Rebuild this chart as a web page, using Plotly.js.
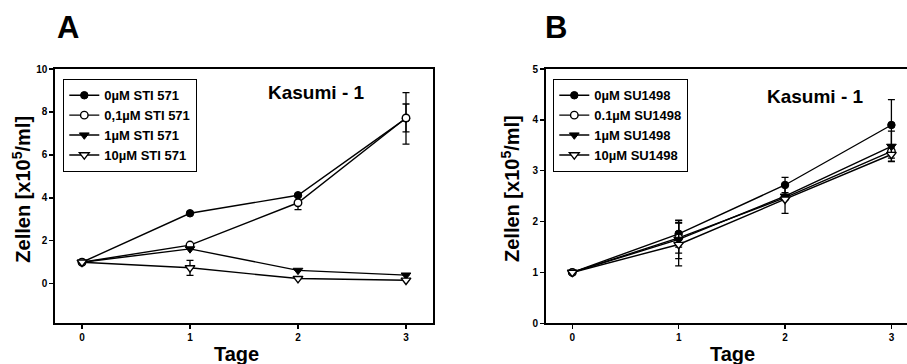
<!DOCTYPE html>
<html>
<head>
<meta charset="utf-8">
<script src="https://cdn.plot.ly/plotly-3.0.1.min.js"></script>
<style>
  html, body { margin: 0; padding: 0; overflow: hidden; background: #fff; }
  #chart { width: 920px; height: 364px; }
</style>
</head>
<body>
<div id="chart"></div>
<script>
// ---- data ----
const days = [0, 1, 2, 3];
const dayTicks = ['0', '1', '2', '3'];

// Panel A: STI 571
const namesA = ['0µM STI 571', '0,1µM STI 571', '1µM STI 571', '10µM STI 571'];
const sti0   = [1.0, 3.28, 4.12, 7.70];
const sti01  = [1.0, 1.80, 3.77, 7.72];
const sti1   = [1.0, 1.62, 0.62, 0.40];
const sti10  = [1.0, 0.74, 0.24, 0.16];
const errSti0  = [null, null, null, 1.20];
const errSti01 = [null, null, 0.32, 0.65];
const errSti1  = [null, null, null, null];
const errSti10 = [null, 0.35, null, null];

// Panel B: SU1498
const namesB = ['0µM SU1498', '0.1µM SU1498', '1µM SU1498', '10µM SU1498'];
const su0   = [1.0, 1.76, 2.72, 3.90];
const su01  = [1.0, 1.68, 2.47, 3.38];
const su1   = [1.0, 1.65, 2.50, 3.48];
const su10  = [1.0, 1.55, 2.44, 3.32];
const errSu0  = [null, 0.26, 0.15, 0.50];
const errSu01 = [null, 0.30, null, 0.13];
const errSu1  = [null, 0.38, null, 0.30];
const errSu10 = [null, 0.42, 0.28, 0.13];

// ---- styling ----
const W = 920, H = 364;
const px = v => v / W;
const py = v => 1 - v / H;
const FONT = 'Arial, "Liberation Sans", Helvetica, sans-serif';

const markerStyles = [
  {symbol: 'circle', color: '#000', size: 7.5, line: {color: '#000', width: 1}},
  {symbol: 'circle', color: '#fff', size: 7.5, line: {color: '#000', width: 1.4}},
  {symbol: 'triangle-down', color: '#000', size: 8.5, line: {color: '#000', width: 1}},
  {symbol: 'triangle-down', color: '#fff', size: 8.5, line: {color: '#000', width: 1.4}}
];

function mk(name, ys, errs, style, xa, ya, leg) {
  return {
    type: 'scatter', mode: 'lines+markers', name: name,
    x: days, y: ys, xaxis: xa, yaxis: ya, legend: leg,
    line: {color: '#000', width: 1.4},
    marker: style,
    error_y: {type: 'data', array: errs, visible: true, color: '#000', thickness: 1.3, width: 3.5},
    cliponaxis: false
  };
}

const seriesA = [sti0, sti01, sti1, sti10];
const errsA = [errSti0, errSti01, errSti1, errSti10];
const seriesB = [su0, su01, su1, su10];
const errsB = [errSu0, errSu01, errSu1, errSu10];

const traces = [];
for (let i = 0; i < 4; i++) traces.push(mk(namesA[i], seriesA[i], errsA[i], markerStyles[i], 'x', 'y', 'legend'));
for (let i = 0; i < 4; i++) traces.push(mk(namesB[i], seriesB[i], errsB[i], markerStyles[i], 'x2', 'y2', 'legend2'));

const axisCommon = {
  showgrid: false, zeroline: false, showline: true, mirror: true,
  linecolor: '#000', linewidth: 1.6,
  ticks: 'outside', ticklen: 4, tickwidth: 1.4, tickcolor: '#000',
  tickfont: {family: FONT, size: 10, color: '#000', weight: 'bold'}
};

const legendCommon = {
  xanchor: 'left', yanchor: 'top',
  bordercolor: '#000', borderwidth: 1.3, bgcolor: '#fff',
  font: {family: FONT, size: 13, color: '#000', weight: 'bold'},
  tracegroupgap: 0
};

const ann = (text, x, y, size, extra) => Object.assign({
  text: text, xref: 'paper', yref: 'paper', x: px(x), y: py(y),
  xanchor: 'center', yanchor: 'middle', showarrow: false,
  font: {family: FONT, size: size, color: '#000', weight: 'bold'}
}, extra || {});

const layout = {
  width: W, height: H,
  margin: {l: 0, r: 0, t: 0, b: 0},
  paper_bgcolor: '#fff', plot_bgcolor: '#fff',
  showlegend: true,
  xaxis: Object.assign({}, axisCommon, {domain: [px(55), px(433)], range: [-0.25, 3.25], tickvals: days, ticktext: dayTicks, anchor: 'y'}),
  yaxis: Object.assign({}, axisCommon, {domain: [py(323), py(69)], range: [-1.83, 10.001], tick0: 0, dtick: 2, anchor: 'x'}),
  xaxis2: Object.assign({}, axisCommon, {domain: [px(545.7), px(918)], range: [-0.25, 3.25], tickvals: days, ticktext: dayTicks, anchor: 'y2'}),
  yaxis2: Object.assign({}, axisCommon, {domain: [py(323.3), py(69)], range: [0, 5.001], tick0: 0, dtick: 1, anchor: 'x2'}),
  legend: Object.assign({}, legendCommon, {x: px(63), y: py(79)}),
  legend2: Object.assign({}, legendCommon, {x: px(553), y: py(79)}),
  annotations: [
    ann('A', 67.5, 28, 31),
    ann('B', 556, 28, 31),
    ann('Kasumi - 1', 316.5, 92.7, 19),
    ann('Kasumi - 1', 815.5, 96.7, 19),
    ann('Zellen [x10<sup>5</sup>/ml]', 20.7, 189, 20, {textangle: -90}),
    ann('Zellen [x10<sup>5</sup>/ml]', 510, 189, 20, {textangle: -90}),
    ann('Tage', 236.7, 354, 20),
    ann('Tage', 732.5, 354, 20)
  ]
};

Plotly.newPlot('chart', traces, layout, {displayModeBar: false, staticPlot: true});
</script>
</body>
</html>
